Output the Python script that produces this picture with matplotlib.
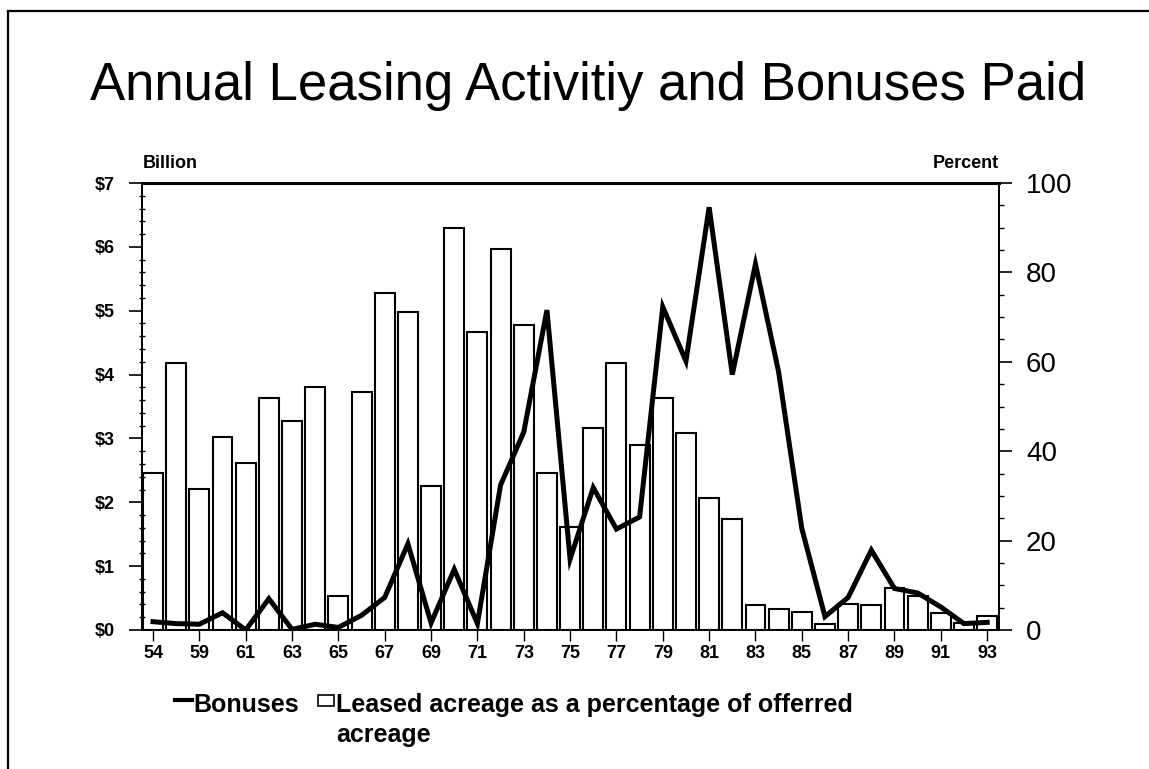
import matplotlib
matplotlib.use("Agg")
import matplotlib.pyplot as plt
from matplotlib.lines import Line2D
from matplotlib.patches import Rectangle
import numpy as np

# ---- data ----
years = ["54", "55-58", "59", "60", "61", "62", "63", "64", "65", "66", "67", "68",
         "69", "70", "71", "72", "73", "74", "75", "76", "77", "78", "79", "80",
         "81", "82", "83", "84", "85", "86", "87", "88", "89", "90", "91", "92", "93"]
leased_pct = [35.1, 59.8, 31.5, 43.2, 37.4, 51.8, 46.8, 54.4, 7.5, 53.3, 75.5, 71.1,
              32.2, 89.9, 66.6, 85.2, 68.2, 35.1, 23.1, 45.2, 59.8, 41.3, 51.8, 44.1,
              29.5, 24.8, 5.5, 4.8, 4.0, 1.3, 5.8, 5.6, 9.3, 7.5, 3.7, 1.5, 3.2]
bonuses_bn = [0.13, 0.10, 0.09, 0.27, 0.00, 0.49, 0.01, 0.09, 0.04, 0.23, 0.51, 1.35,
              0.11, 0.95, 0.10, 2.27, 3.10, 5.01, 1.11, 2.23, 1.58, 1.77, 5.06, 4.21,
              6.62, 4.00, 5.73, 4.04, 1.59, 0.21, 0.51, 1.25, 0.65, 0.58, 0.36, 0.10, 0.12]
left_ticks = [0, 1, 2, 3, 4, 5, 6, 7]
left_labels = ["$0", "$1", "$2", "$3", "$4", "$5", "$6", "$7"]
right_ticks = [0, 20, 40, 60, 80, 100]

W, H = 1149, 769
fig = plt.figure(figsize=(W / 100, H / 100), dpi=100)
plt.rcParams['font.family'] = ['Liberation Sans', 'DejaVu Sans']

L, R, T, B = 142, 999, 183, 630
ax = fig.add_axes([L / W, 1 - B / H, (R - L) / W, (B - T) / H])
x = np.arange(len(years))

# bars (percent) on ax
ax.bar(x, leased_pct, width=0.86, color="white", edgecolor="black", linewidth=1.5, zorder=2)
ax.set_ylim(0, 100)
ax.set_xlim(-0.475, 36.51)

ticks_x = x[::2]
ax.set_xticks(ticks_x)
ax.set_xticklabels([years[i] for i in ticks_x], fontsize=13, fontweight="bold",
                   family=["Liberation Sans Narrow", "Liberation Sans", "DejaVu Sans"])
ax.tick_params(axis="x", direction="out", length=8, width=1.0, pad=3)

# line (billions) on twin
ax2 = ax.twinx()
ax2.plot(x, bonuses_bn, color="black", linewidth=3.6, solid_joinstyle="miter", zorder=3)
ax2.set_ylim(0, 7)

# percent axis on the right
ax.yaxis.tick_right()
ax.set_yticks(right_ticks)
ax.set_yticks(np.arange(0, 101, 5), minor=True)
ax.tick_params(axis="y", which="major", direction="out", length=9.5, width=1.2,
               labelsize=20, pad=10)
ax.tick_params(axis="y", which="minor", direction="out", length=3.5, width=1.0)

# billions axis on the left
ax2.yaxis.tick_left()
ax2.set_yticks(left_ticks)
ax2.set_yticklabels(left_labels, fontsize=13, fontweight="bold")
ax2.set_yticks(np.arange(0, 7.01, 0.2), minor=True)
ax2.tick_params(axis="y", which="major", direction="out", length=9.5, width=1.2, pad=10)
ax2.tick_params(axis="y", which="minor", direction="inout", length=4, width=1.0)

for a in (ax, ax2):
    for s in a.spines.values():
        s.set_linewidth(1.3)
    a.spines["top"].set_linewidth(2.2)

# axis captions
fig.text(170 / W, 1 - 168 / H, "Billion", ha="center", va="baseline", fontsize=13,
         fontweight="bold")
fig.text(999 / W, 1 - 168 / H, "Percent", ha="right", va="baseline", fontsize=13,
         fontweight="bold")

# title
fig.text(588 / W, 1 - 100 / H, "Annual Leasing Activitiy and Bonuses Paid", ha="center",
         va="baseline", fontsize=38)

# legend (manual)
fs = 18
fig.add_artist(Line2D([175 / W, 192 / W], [1 - 700 / H, 1 - 700 / H], color="black",
                      linewidth=3))
fig.text(193 / W, 1 - 712 / H, "Bonuses", ha="left", va="baseline", fontsize=fs,
         fontweight="bold")
fig.add_artist(Rectangle((318 / W, 1 - 706 / H), 16 / W, 11 / H, facecolor="white",
                         edgecolor="black", linewidth=1.2, transform=fig.transFigure))
fig.text(336 / W, 1 - 712 / H, "Leased acreage as a percentage of offerred", ha="left",
         va="baseline", fontsize=fs, fontweight="bold")
fig.text(336 / W, 1 - 742 / H, "acreage", ha="left", va="baseline", fontsize=fs,
         fontweight="bold")

# page border (left and top)
fig.add_artist(Line2D([8 / W, 8 / W], [0, 1 - 11 / H], color="black", linewidth=1.6))
fig.add_artist(Line2D([8 / W, 1], [1 - 11 / H, 1 - 11 / H], color="black", linewidth=1.6))

fig.savefig("out.png", dpi=100)
